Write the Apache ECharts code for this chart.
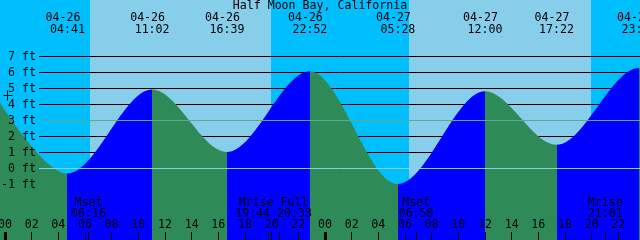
<!DOCTYPE html>
<html><head><meta charset="utf-8">
<script src="https://cdn.jsdelivr.net/npm/echarts@6/dist/echarts.min.js"></script>
<style>html,body{margin:0;padding:0;background:#00bfff}#c{width:640px;height:240px}</style>
</head><body><div id="c"></div>
<script>
// ---- data ----
const title = 'Half Moon Bay, California';
const tideTimes = ['04-25 22:30','04-26 04:41','04-26 11:02','04-26 16:39','04-26 22:52','04-27 05:28','04-27 12:00','04-27 17:22','04-27 23:33','04-28 06:05'];
const tideHeights = [5.6, -0.35, 4.9, 1.0, 6.05, -1.0, 4.8, 1.45, 6.25, -1.3];
const sunrises = ['04-26 06:21','04-27 06:19'];
const sunsets = ['04-26 19:56','04-27 19:57'];
const moonTimes = ['04-26 06:16','04-26 19:44','04-26 20:33','04-27 06:50','04-27 21:01'];
const moonNames = ['Mset','Mrise','Full','Mset','Mrise'];
const levelLabels = [7, 6, 5, 4, 3, 2, 1, 0, -1];
const plainLevels = [7, 6, 5, 4, 2, 1, -1];
const meanLevel = 3;
const datumLevel = 0;
const hourTicks = [0,2,4,6,8,10,12,14,16,18,20,22,24,26,28,30,32,34,36,38,40,42,44,46];
const markTime = '04-26 00:08';
const markLevel = 4.55;
const viewStart = -0.375, viewEnd = 47.625;  // hours from 04-26 00:00
const yMin = -4.5, yMax = 10.5;

// ---- helpers ----
function toHours(s) {
  const m = s.match(/(\d+)-(\d+) (\d+):(\d+)/);
  return (parseInt(m[2], 10) - 26) * 24 + parseInt(m[3], 10) + parseInt(m[4], 10) / 60;
}
function pad(n) { return (n < 10 ? '0' : '') + n; }
const FONT = '"DejaVu Sans Mono", monospace';
const FS = 11.6;
const RISE = '#0000ff', FALL = '#2e8b57', DAY = '#87ceeb', NIGHT = '#00bfff';
const MEAN_COLOR = '#5fa98e', DATUM_COLOR = '#87ceeb';

const tidePts = tideTimes.map((t, i) => [toHours(t), tideHeights[i]]);
const pieces = [];
for (let i = 0; i < tidePts.length - 1; i++) {
  pieces.push({ gte: tidePts[i][0], lt: tidePts[i + 1][0], color: tidePts[i + 1][1] > tidePts[i][1] ? RISE : FALL });
}
const visibleTides = tideTimes.map((t, i) => ({ h: toHours(t), s: t })).filter(e => e.h >= viewStart && e.h <= viewEnd);

// moon label groups
const moonEv = moonTimes.map((t, i) => ({ h: toHours(t), name: moonNames[i], time: t.split(' ')[1] }));
const moonGroups = [];
moonEv.forEach(e => {
  const g = moonGroups[moonGroups.length - 1];
  if (g && e.h - g.items[g.items.length - 1].h < 1.5) g.items.push(e);
  else moonGroups.push({ items: [e] });
});

function txt(x, y, text, align) {
  return { type: 'text', x: x, y: y, style: { text: text, fill: '#000', font: FS + 'px ' + FONT, align: align || 'center', verticalAlign: 'middle' } };
}

const chart = echarts.init(document.getElementById('c'), null, { renderer: 'canvas' });
chart.setOption({
  backgroundColor: NIGHT,
  animation: false,
  grid: { left: 0, right: 0, top: 0, bottom: 0 },
  xAxis: { type: 'value', min: viewStart, max: viewEnd, show: false },
  yAxis: { type: 'value', min: yMin, max: yMax, show: false },
  visualMap: { type: 'piecewise', show: false, dimension: 0, seriesIndex: 2, pieces: pieces },
  series: [
    { // daylight bands
      type: 'custom', z: 1, silent: true,
      data: sunrises.map((s, i) => [toHours(s), yMin, toHours(sunsets[i])]),
      renderItem(params, api) {
        const a = api.coord([api.value(0), yMax]);
        const b = api.coord([api.value(2), yMin]);
        const x0 = Math.round(a[0]), x1 = Math.round(b[0]);
        return { type: 'rect', shape: { x: x0, y: a[1], width: x1 - x0, height: b[1] - a[1] }, style: { fill: DAY } };
      }
    },
    { // plain level lines (behind water)
      type: 'custom', z: 2, silent: true,
      data: plainLevels.map(v => [viewStart, v]),
      renderItem(params, api) {
        const y = Math.round(api.coord([viewStart, api.value(1)])[1]) + 0.5;
        return { type: 'line', shape: { x1: params.coordSys.x + 39, y1: y, x2: params.coordSys.x + params.coordSys.width, y2: y }, style: { stroke: '#000', lineWidth: 1 } };
      }
    },
    { // tide curve
      type: 'line', z: 3, silent: true,
      data: tidePts,
      smooth: 1 / 3, smoothMonotone: 'x',
      showSymbol: false, symbol: 'none',
      lineStyle: { width: 1, opacity: 0 },
      areaStyle: { origin: 'start', opacity: 1 }
    },
    { // mean & datum lines
      type: 'custom', z: 4, silent: true,
      data: [[viewStart, meanLevel], [viewStart, datumLevel]],
      renderItem(params, api) {
        const y = Math.round(api.coord([viewStart, api.value(1)])[1]) + 0.5;
        return { type: 'line', shape: { x1: params.coordSys.x + 39, y1: y, x2: params.coordSys.x + params.coordSys.width, y2: y }, style: { stroke: params.dataIndex === 0 ? MEAN_COLOR : DATUM_COLOR, lineWidth: 1 } };
      }
    },
    { // y labels
      type: 'custom', z: 6, silent: true,
      data: levelLabels.map(v => [viewStart, v]),
      renderItem(params, api) {
        const y = api.coord([viewStart, api.value(1)])[1];
        return txt(params.coordSys.x + 36, y + 0.5, api.value(1) + ' ft', 'right');
      }
    },
    { // hour ticks + labels
      type: 'custom', z: 6, silent: true,
      data: hourTicks.map(h => [h, yMin]),
      renderItem(params, api) {
        const h = api.value(0);
        const p = api.coord([h, yMin]);
        const x = Math.floor(p[0]);
        const bold = h % 24 === 0;
        return { type: 'group', children: [
          { type: 'rect', shape: { x: bold ? x - 1 : x, y: p[1] - 8, width: bold ? 3 : 1, height: 8 }, style: { fill: '#000' } },
          txt(p[0], p[1] - 15, pad(h % 24))
        ] };
      }
    },
    { // moon ticks
      type: 'custom', z: 6, silent: true,
      data: moonEv.map(e => [e.h, yMin]),
      renderItem(params, api) {
        const p = api.coord([api.value(0), yMin]);
        return { type: 'rect', shape: { x: Math.floor(p[0]), y: p[1] - 8, width: 1, height: 8 }, style: { fill: '#000' } };
      }
    },
    { // moon labels
      type: 'custom', z: 6, silent: true,
      data: moonGroups.map(g => [(g.items[0].h + g.items[g.items.length - 1].h) / 2, yMin]),
      renderItem(params, api) {
        const g = moonGroups[params.dataIndex];
        const p = api.coord([api.value(0), yMin]);
        return { type: 'group', children: [
          txt(p[0], 202.5, g.items.map(e => e.name).join(' ')),
          txt(p[0], 213.5, g.items.map(e => e.time).join(' '))
        ] };
      }
    },
    { // tide event labels (top)
      type: 'custom', z: 6, silent: true,
      data: visibleTides.map(e => [e.h, yMax]),
      renderItem(params, api) {
        const e = visibleTides[params.dataIndex];
        const p = api.coord([api.value(0), yMax]);
        const parts = e.s.split(' ');
        return { type: 'group', children: [
          txt(p[0] - 4.5, 17.5, parts[0]),
          txt(p[0], 29.5, parts[1])
        ] };
      }
    },
    { // "+" marker
      type: 'custom', z: 6, silent: true,
      data: [[toHours(markTime), markLevel]],
      renderItem(params, api) {
        const p = api.coord([api.value(0), api.value(1)]);
        const x = Math.round(p[0]) + 0.5, y = Math.round(p[1]) + 0.5;
        return { type: 'group', children: [
          { type: 'line', shape: { x1: x - 4, y1: y, x2: x + 5, y2: y }, style: { stroke: '#000', lineWidth: 1 } },
          { type: 'line', shape: { x1: x, y1: y - 5, x2: x, y2: y + 5 }, style: { stroke: '#000', lineWidth: 1 } }
        ] };
      }
    }
  ],
  graphic: [
    { type: 'text', left: 'center', top: 0, z: 10, style: { text: title, fill: '#000', font: FS + 'px ' + FONT } }
  ]
});
</script></body></html>
